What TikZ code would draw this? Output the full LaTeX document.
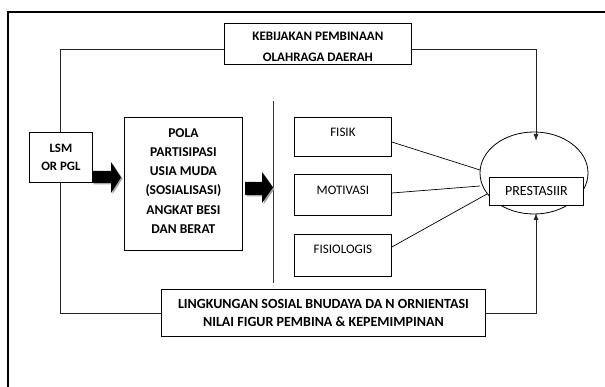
\documentclass[tikz,border=0pt]{standalone}
\usepackage{fontspec}
\setmainfont{Carlito}
\usetikzlibrary{arrows.meta,shapes.geometric}
\tikzset{
  box/.style={draw=black, line width=0.8pt, fill=white, inner sep=0pt},
  bigtxt/.style={font=\bfseries\fontsize{13}{20.5}\selectfont, align=center, inner sep=0pt},
  midtxt/.style={font=\bfseries\fontsize{12.8}{18.5}\selectfont, align=center, inner sep=0pt},
  smalltxt/.style={font=\fontsize{13}{15}\selectfont, inner sep=0pt},
  loopline/.style={draw=black!85, line width=0.8pt},
  conn/.style={draw=black, line width=0.7pt},
  tip/.style={-{Latex[length=7pt,width=5pt]}},
  blockarrow/.style={fill=black},
  blockshadow/.style={fill=black!35}
}
\begin{document}
\begin{tikzpicture}[x=1pt,y=-1pt]
\useasboundingbox (0,0) rectangle (605,387);
% outer frame (only top and left edges visible)
\draw[line width=1.4pt] (605,12) -- (8,12) -- (8,387);
% loop corners
\coordinate (tl) at (60,49);
\coordinate (bl) at (60,313);
\coordinate (tr) at (536,49);
\coordinate (br) at (536,313);
\coordinate (toptip) at (536,141);
\coordinate (bottip) at (536,213);
% divider
\coordinate (dtop) at (273,101);
\coordinate (dbot) at (273,283);
\draw[line width=0.8pt, draw=black!80] (dtop) -- (dbot);
% boxes
\node[box, minimum width=187, minimum height=41, anchor=north west] (kebij) at (224,23) {};
\node[bigtxt] at ([yshift=-3pt]kebij.center) {KEBIJAKAN PEMBINAAN\\OLAHRAGA DAERAH};
\node[box, minimum width=324, minimum height=47, anchor=north west] (lingk) at (161,289) {};
\node[bigtxt, font=\bfseries\fontsize{14}{18}\selectfont] at (lingk.center) {LINGKUNGAN SOSIAL BNUDAYA DA N ORNIENTASI\\NILAI FIGUR PEMBINA \& KEPEMIMPINAN};
% loop lines
\draw[loopline] (kebij.west |- tl) -- (tl) -- (bl) -- (lingk.west |- bl);
\draw[loopline, tip] (kebij.east |- tr) -- (tr) -- (toptip);
\draw[loopline, tip] (lingk.east |- br) -- (br) -- (bottip);
% LSM and POLA
\node[box, minimum width=63, minimum height=50, anchor=north west] (lsm) at (29,132) {};
\node[midtxt] at (lsm.center) {LSM\\OR PGL};
\node[box, minimum width=118, minimum height=133, anchor=north west] (pola) at (124,117) {};
\node[midtxt, font=\bfseries\fontsize{13.5}{19.3}\selectfont] at ([yshift=3pt]pola.center) {POLA\\PARTISIPASI\\USIA MUDA\\(SOSIALISASI)\\ANGKAT BESI\\DAN BERAT};
% block arrows
\fill[blockshadow] (93.5,172.5) -- (112.5,172.5) -- (112.5,163.5) -- (122.5,178.5) -- (112.5,194.5) -- (112.5,184.5) -- (93.5,184.5) -- cycle;
\fill[blockarrow] (92,171) -- (111,171) -- (111,162) -- (121,177.5) -- (111,193) -- (111,183) -- (92,183) -- cycle;
\fill[blockshadow] (246.5,183.5) -- (263.5,183.5) -- (263.5,173.5) -- (274.5,189) -- (263.5,204.5) -- (263.5,196.5) -- (246.5,196.5) -- cycle;
\fill[blockarrow] (245,182) -- (262,182) -- (262,172) -- (273,187.5) -- (262,203) -- (262,195) -- (245,195) -- cycle;
% factor boxes
\node[box, minimum width=97, minimum height=39, anchor=north west] (fisik) at (294,117) {};
\node[smalltxt] at ([yshift=-15pt]fisik.north) {FISIK};
\node[box, minimum width=97, minimum height=41, anchor=north west] (motiv) at (294,174) {};
\node[smalltxt] at ([yshift=-16pt]motiv.north) {MOTIVASI};
\node[box, minimum width=97, minimum height=42, anchor=north west] (fisio) at (294,234) {};
\node[smalltxt] at ([yshift=-15pt]fisio.north) {FISIOLOGIS};
% ellipse and result
\node[draw=black, line width=0.8pt, ellipse, minimum width=108, minimum height=82, inner sep=0pt] (ell) at (534,173) {};
\node[box, minimum width=94, minimum height=28, anchor=north west] (prest) at (489,177) {};
\node[smalltxt, font=\fontsize{14}{16}\selectfont] at (prest.center) {PRESTASIIR};
% connectors
\coordinate (c1) at (480,170);
\coordinate (c2) at (480,186);
\coordinate (c3) at (487,194);
\draw[conn] (fisik.east |- 0,142) -- (c1);
\draw[conn] (motiv.east |- 0,193) -- (c2);
\draw[conn] (fisio.east |- 0,247) -- (c3);
\end{tikzpicture}
\end{document}
